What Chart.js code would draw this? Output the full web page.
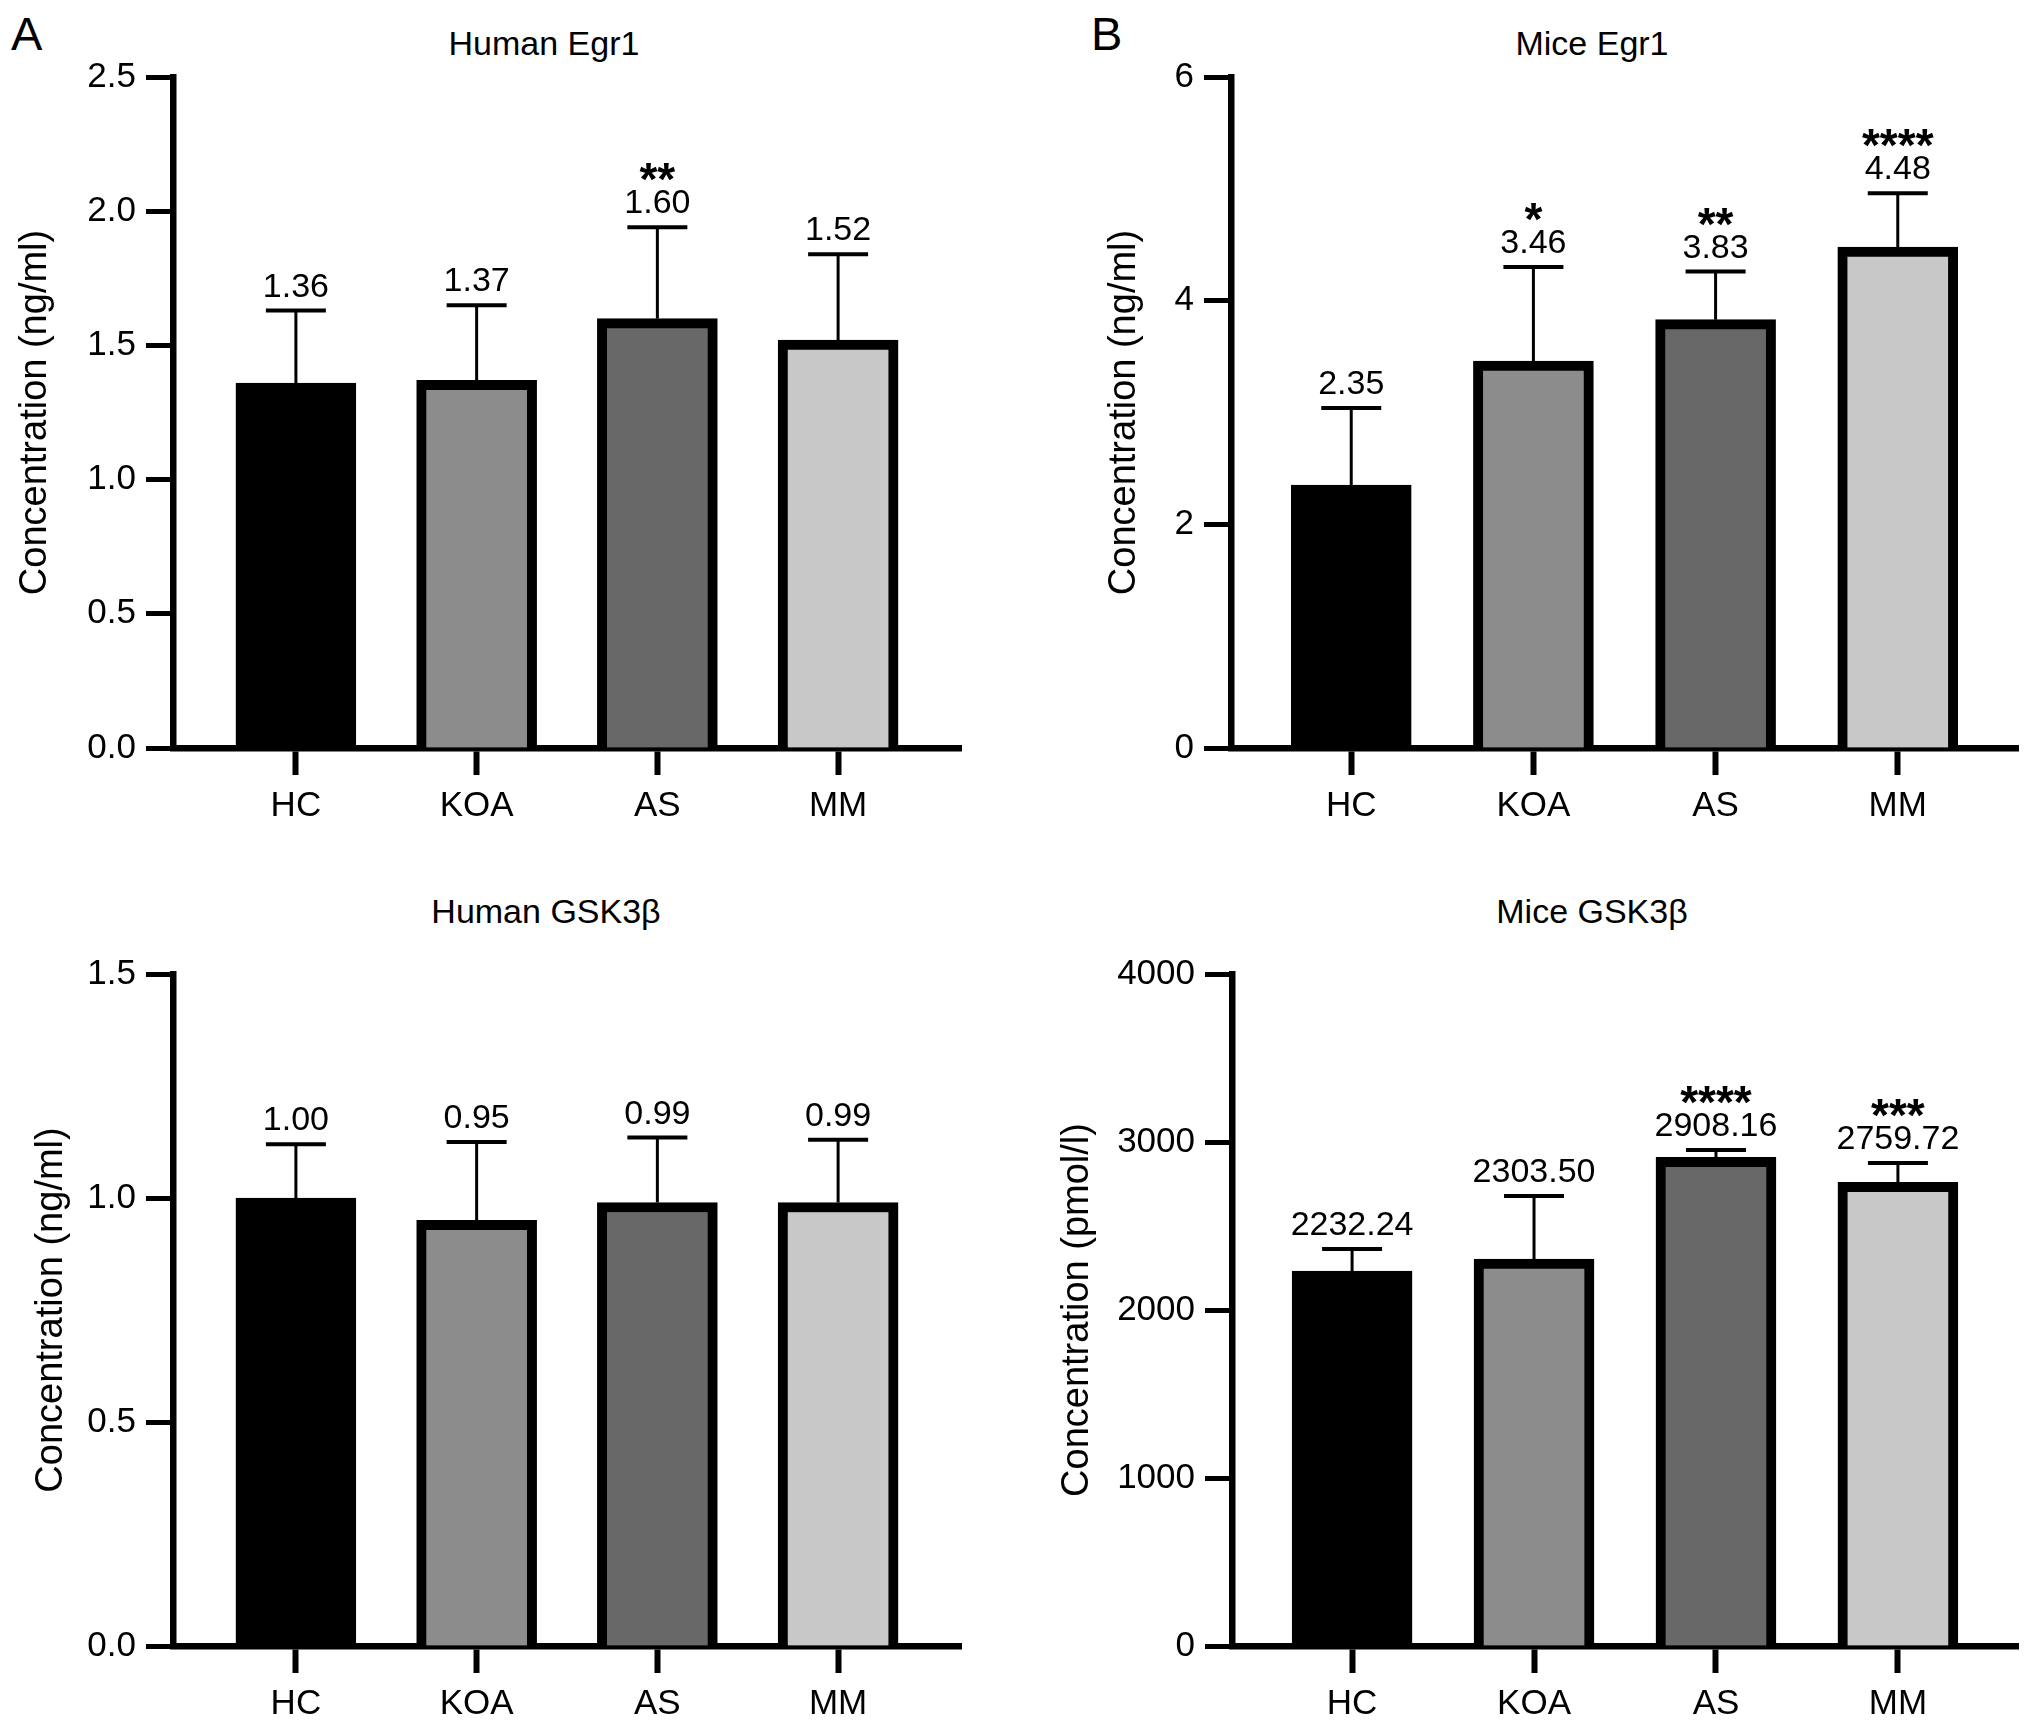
<!DOCTYPE html>
<html>
<head>
<meta charset="utf-8">
<script src="https://cdn.jsdelivr.net/npm/chart.js@4.4.1/dist/chart.umd.min.js"></script>
<style>
  body { margin: 0; background: #fff; }
  #page { position: relative; width: 2032px; height: 1728px; overflow: hidden; font-family: "Liberation Sans", Arial, sans-serif; color: #000; }
  canvas { position: absolute; }
  .title { position: absolute; font-size: 34px; line-height: 1; transform: translate(-50%, -50%); white-space: nowrap; }
  .letter { position: absolute; font-size: 47px; line-height: 1; }
</style>
</head>
<body>
<div id="page">
  <div class="letter" style="left:11px;top:10px">A</div>
  <div class="letter" style="left:1091px;top:10px">B</div>
  <div class="title" style="left:544px;top:43px">Human Egr1</div>
  <div class="title" style="left:546px;top:911px">Human GSK3β</div>
  <div class="title" style="left:1592px;top:43px">Mice Egr1</div>
  <div class="title" style="left:1592px;top:911px">Mice GSK3β</div>
  <canvas id="humanEgr1" width="1016" height="864" style="left:0;top:0"></canvas>
  <canvas id="humanGsk3b" width="1016" height="864" style="left:0;top:864px"></canvas>
  <canvas id="miceEgr1" width="1016" height="864" style="left:1016px;top:0"></canvas>
  <canvas id="miceGsk3b" width="1016" height="864" style="left:1016px;top:864px"></canvas>
</div>
<script>
const groups = ['HC', 'KOA', 'AS', 'MM']
const barColors = ['#000000', '#8c8c8c', '#686868', '#c8c8c8']

const humanEgr1Mean = [1.36, 1.37, 1.60, 1.52]
const humanEgr1Sd = [0.27, 0.28, 0.34, 0.32]
const humanEgr1Stars = ['', '', '**', '']

const humanGsk3bMean = [1.00, 0.95, 0.99, 0.99]
const humanGsk3bSd = [0.12, 0.175, 0.145, 0.14]
const humanGsk3bStars = ['', '', '', '']

const miceEgr1Mean = [2.35, 3.46, 3.83, 4.48]
const miceEgr1Sd = [0.69, 0.84, 0.43, 0.48]
const miceEgr1Stars = ['', '*', '**', '****']

const miceGsk3bMean = [2232.24, 2303.50, 2908.16, 2759.72]
const miceGsk3bSd = [131, 375, 44, 116]
const miceGsk3bStars = ['', '', '****', '***']

const FONT = '"Liberation Sans", Arial, sans-serif'
Chart.defaults.font.family = FONT
Chart.defaults.color = '#000'

// upward error bars, mean labels and significance stars
const errorBarPlugin = {
  id: 'errorBars',
  afterDatasetsDraw(chart, args, opts) {
    const {ctx, scales: {x, y}} = chart
    ctx.save()
    opts.mean.forEach((m, i) => {
      const px = x.getPixelForValue(i)
      const yBase = y.getPixelForValue(m)
      const yTop = y.getPixelForValue(m + opts.sd[i])
      ctx.strokeStyle = '#000'
      ctx.lineWidth = 3
      ctx.beginPath()
      ctx.moveTo(px, yBase)
      ctx.lineTo(px, yTop)
      ctx.stroke()
      ctx.lineWidth = 4
      ctx.beginPath()
      ctx.moveTo(px - 30, yTop)
      ctx.lineTo(px + 30, yTop)
      ctx.stroke()

      ctx.fillStyle = '#000'
      ctx.textAlign = 'center'
      ctx.textBaseline = 'alphabetic'
      ctx.font = `34px ${FONT}`
      ctx.fillText(m.toFixed(2), px, yTop - 14)
      if (opts.stars[i]) {
        ctx.font = `bold 46px ${FONT}`
        ctx.fillText(opts.stars[i], px, yTop - 32)
      }
    })
    ctx.restore()
  }
}

function drawPanel(id, mean, sd, stars, axis) {
  const canvas = document.getElementById(id)
  const area = axis.area

  new Chart(canvas, {
    type: 'bar',
    data: {
      datasets: [{
        data: mean.map((v, i) => ({x: i, y: v})),
        backgroundColor: barColors,
        borderColor: '#000',
        borderWidth: 10,
        barThickness: 120
      }]
    },
    plugins: [errorBarPlugin],
    options: {
      responsive: false,
      animation: false,
      devicePixelRatio: 1,
      layout: {
        padding: {left: 0, top: area.top, right: canvas.width - area.right, bottom: 0}
      },
      plugins: {
        legend: {display: false},
        tooltip: {enabled: false},
        errorBars: {mean, sd, stars}
      },
      scales: {
        x: {
          type: 'linear',
          min: axis.xMin,
          max: axis.xMax,
          offset: false,
          afterBuildTicks: scale => { scale.ticks = groups.map((g, i) => ({value: i})) },
          afterFit: scale => { scale.height = canvas.height - area.bottom },
          ticks: {
            callback: v => groups[v],
            font: {size: 35},
            padding: 10,
            maxRotation: 0,
            autoSkip: false
          },
          grid: {display: true, offset: false, drawOnChartArea: false, drawTicks: true, tickLength: 27, tickWidth: 6, tickColor: '#000'},
          border: {display: true, color: '#000', width: 6.5}
        },
        y: {
          min: 0,
          max: axis.yMax,
          afterFit: scale => { scale.width = area.left },
          ticks: {
            stepSize: axis.yStep,
            callback: v => v.toFixed(axis.yDigits),
            font: {size: 35},
            padding: 10
          },
          grid: {display: true, drawOnChartArea: false, drawTicks: true, tickLength: 27, tickWidth: 5, tickColor: '#000'},
          border: {display: true, color: '#000', width: 6.5},
          title: {
            display: true,
            text: axis.yTitle,
            font: {size: 38},
            padding: {top: axis.titlePad, bottom: 0}
          }
        }
      }
    }
  })
}

drawPanel('humanEgr1', humanEgr1Mean, humanEgr1Sd, humanEgr1Stars, {
  area: {left: 173, top: 77, right: 961, bottom: 748},
  xMin: -0.68, xMax: 3.68, yMax: 2.5, yStep: 0.5, yDigits: 1,
  yTitle: 'Concentration (ng/ml)', titlePad: 13
})

drawPanel('humanGsk3b', humanGsk3bMean, humanGsk3bSd, humanGsk3bStars, {
  area: {left: 173, top: 110, right: 961, bottom: 782},
  xMin: -0.68, xMax: 3.68, yMax: 1.5, yStep: 0.5, yDigits: 1,
  yTitle: 'Concentration (ng/ml)', titlePad: 29
})

drawPanel('miceEgr1', miceEgr1Mean, miceEgr1Sd, miceEgr1Stars, {
  area: {left: 215, top: 77, right: 1002, bottom: 748},
  xMin: -0.66, xMax: 3.66, yMax: 6, yStep: 2, yDigits: 0,
  yTitle: 'Concentration (ng/ml)', titlePad: 86
})

drawPanel('miceGsk3b', miceGsk3bMean, miceGsk3bSd, miceGsk3bStars, {
  area: {left: 216, top: 110, right: 1002, bottom: 782},
  xMin: -0.66, xMax: 3.66, yMax: 4000, yStep: 1000, yDigits: 0,
  yTitle: 'Concentration (pmol/l)', titlePad: 39
})
</script>
</body>
</html>
